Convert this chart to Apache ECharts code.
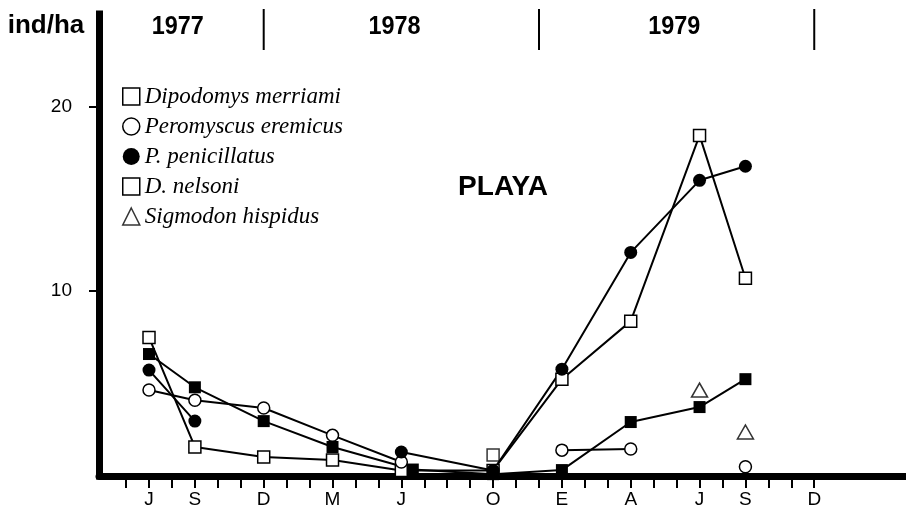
<!DOCTYPE html>
<html>
<head>
<meta charset="utf-8">
<script src="https://cdn.jsdelivr.net/npm/echarts@6/dist/echarts.min.js"></script>
<style>
html, body { margin: 0; padding: 0; background: #fff; }
#playa { width: 906px; height: 514px; }
</style>
</head>
<body>
<div id="playa"></div>
<script>
// meses contados desde enero 1977 (0 = E 1977, 6 = J 1977 ...)
const months = [6, 8, 11, 14, 17, 21, 24, 27, 30, 32];
const merriami = [7.5, 1.57, 1.03, 0.86, 0.3, 0.3, 5.24, 8.38, 18.43, 10.7];
const eremicus = [4.65, 4.1, 3.68, 2.2, 0.76, null, 1.4, 1.46, null, 0.5];
const penicillatus = [5.73, 2.97, null, null, 1.3, 0.3, 5.78, 12.1, 16.0, 16.76];
const nelsoniMonths = [6, 8, 11, 14, 17.5, 21, 24, 27, 30, 32];
const nelsoni = [6.6, 4.8, 2.97, 1.57, 0.35, 0.1, 0.32, 2.92, 3.73, 5.24];
const hispidusMonths = [30, 32];
const hispidus = [4.65, 2.38];
// cuadro suelto en O 1978
const merriamiLoneMonths = [21];
const merriamiLone = [1.13];

const tickMonths = [6, 8, 11, 14, 17, 21, 24, 27, 30, 32, 35];
const tickLetters = ['J', 'S', 'D', 'M', 'J', 'O', 'E', 'A', 'J', 'S', 'D'];
const yTicks = [10, 20];
const years = ['1977', '1978', '1979'];
const yearCenters = [7.25, 16.7, 28.9];
const yearBreaks = [11, 23, 35];

const minorTicks = [];
for (let m = 5; m <= 35; m++) minorTicks.push(m);

const pairs = (xs, ys) => xs.map((x, i) => [x, ys[i]]);

const hollow = { color: '#fff', borderColor: '#000', borderWidth: 1.5 };
const solid = { color: '#000', borderColor: '#000', borderWidth: 0 };
const line = { color: '#000', width: 2 };
const sans = 'Liberation Sans';

const chart = echarts.init(document.getElementById('playa'));

const option = {
  animation: false,
  backgroundColor: '#fff',
  grid: { left: 99, right: 0, top: 14, bottom: 38, outerBoundsMode: 'none' },
  legend: {
    orient: 'vertical',
    left: 117,
    top: 80,
    itemWidth: 17,
    itemHeight: 17,
    itemGap: 7,
    selectedMode: false,
    textStyle: { fontFamily: 'Liberation Serif', fontStyle: 'italic', fontSize: 23, color: '#000', lineHeight: 22 },
    data: [
      { name: 'Dipodomys merriami', icon: 'rect', itemStyle: hollow },
      { name: 'Peromyscus eremicus', icon: 'circle', itemStyle: hollow },
      { name: 'P. penicillatus', icon: 'circle', itemStyle: solid },
      { name: 'D. nelsoni', icon: 'rect', itemStyle: hollow },
      { name: 'Sigmodon hispidus', icon: 'triangle', itemStyle: hollow }
    ]
  },
  xAxis: {
    type: 'value',
    min: 3.82,
    max: 39,
    splitLine: { show: false },
    axisLine: { show: true, lineStyle: { color: '#000', width: 7 } },
    axisTick: { show: true, customValues: minorTicks, length: 12, lineStyle: { color: '#000', width: 2 } },
    axisLabel: {
      customValues: tickMonths,
      margin: 14,
      color: '#000',
      fontFamily: sans,
      fontSize: 19,
      formatter: v => tickLetters[tickMonths.indexOf(v)] || ''
    }
  },
  yAxis: {
    type: 'value',
    min: 0,
    max: 25,
    splitLine: { show: false },
    axisLine: { show: true, lineStyle: { color: '#000', width: 7, cap: 'square' } },
    axisTick: { show: true, customValues: yTicks, length: 10, lineStyle: { color: '#000', width: 2 } },
    axisLabel: { customValues: yTicks, margin: 27, color: '#000', fontFamily: sans, fontSize: 19 }
  },
  series: [
    {
      name: 'Dipodomys merriami', type: 'line', data: pairs(months, merriami),
      symbol: 'rect', symbolSize: 12, itemStyle: hollow, lineStyle: line
    },
    {
      name: 'Dipodomys merriami', type: 'scatter', data: pairs(merriamiLoneMonths, merriamiLone),
      symbol: 'rect', symbolSize: 12, itemStyle: hollow
    },
    {
      name: 'Peromyscus eremicus', type: 'line', data: pairs(months, eremicus),
      symbol: 'circle', symbolSize: 12, itemStyle: hollow, lineStyle: line
    },
    {
      name: 'D. nelsoni', type: 'line', data: pairs(nelsoniMonths, nelsoni),
      symbol: 'rect', symbolSize: 12, itemStyle: solid, lineStyle: line
    },
    {
      name: 'P. penicillatus', type: 'line', data: pairs(months, penicillatus),
      symbol: 'circle', symbolSize: 13, itemStyle: solid, lineStyle: line
    },
    {
      name: 'Sigmodon hispidus', type: 'scatter', data: pairs(hispidusMonths, hispidus),
      symbol: 'triangle', symbolSize: [16, 14], itemStyle: hollow
    }
  ]
};
chart.setOption(option);

// rotulos de arriba: años, separadores, unidad y titulo
const graphic = [
  {
    type: 'text', x: 46, y: 26,
    style: { text: 'ind/ha', font: 'bold 26px ' + sans, fill: '#000', textAlign: 'center', textVerticalAlign: 'middle' }
  },
  {
    type: 'text', x: 503, y: 187,
    style: { text: 'PLAYA', font: 'bold 28px ' + sans, fill: '#000', textAlign: 'center', textVerticalAlign: 'middle' }
  }
];
years.forEach((y, i) => {
  const px = chart.convertToPixel({ gridIndex: 0 }, [yearCenters[i], 0])[0];
  graphic.push({
    type: 'text', x: px, y: 27, scaleX: 0.9,
    style: { text: y, font: 'bold 26px ' + sans, fill: '#000', textAlign: 'center', textVerticalAlign: 'middle' }
  });
});
yearBreaks.forEach(m => {
  const px = chart.convertToPixel({ gridIndex: 0 }, [m, 0])[0];
  graphic.push({
    type: 'line', shape: { x1: px, y1: 9, x2: px, y2: 50 },
    style: { stroke: '#000', lineWidth: 2 }
  });
});
chart.setOption({ graphic: graphic });
</script>
</body>
</html>
